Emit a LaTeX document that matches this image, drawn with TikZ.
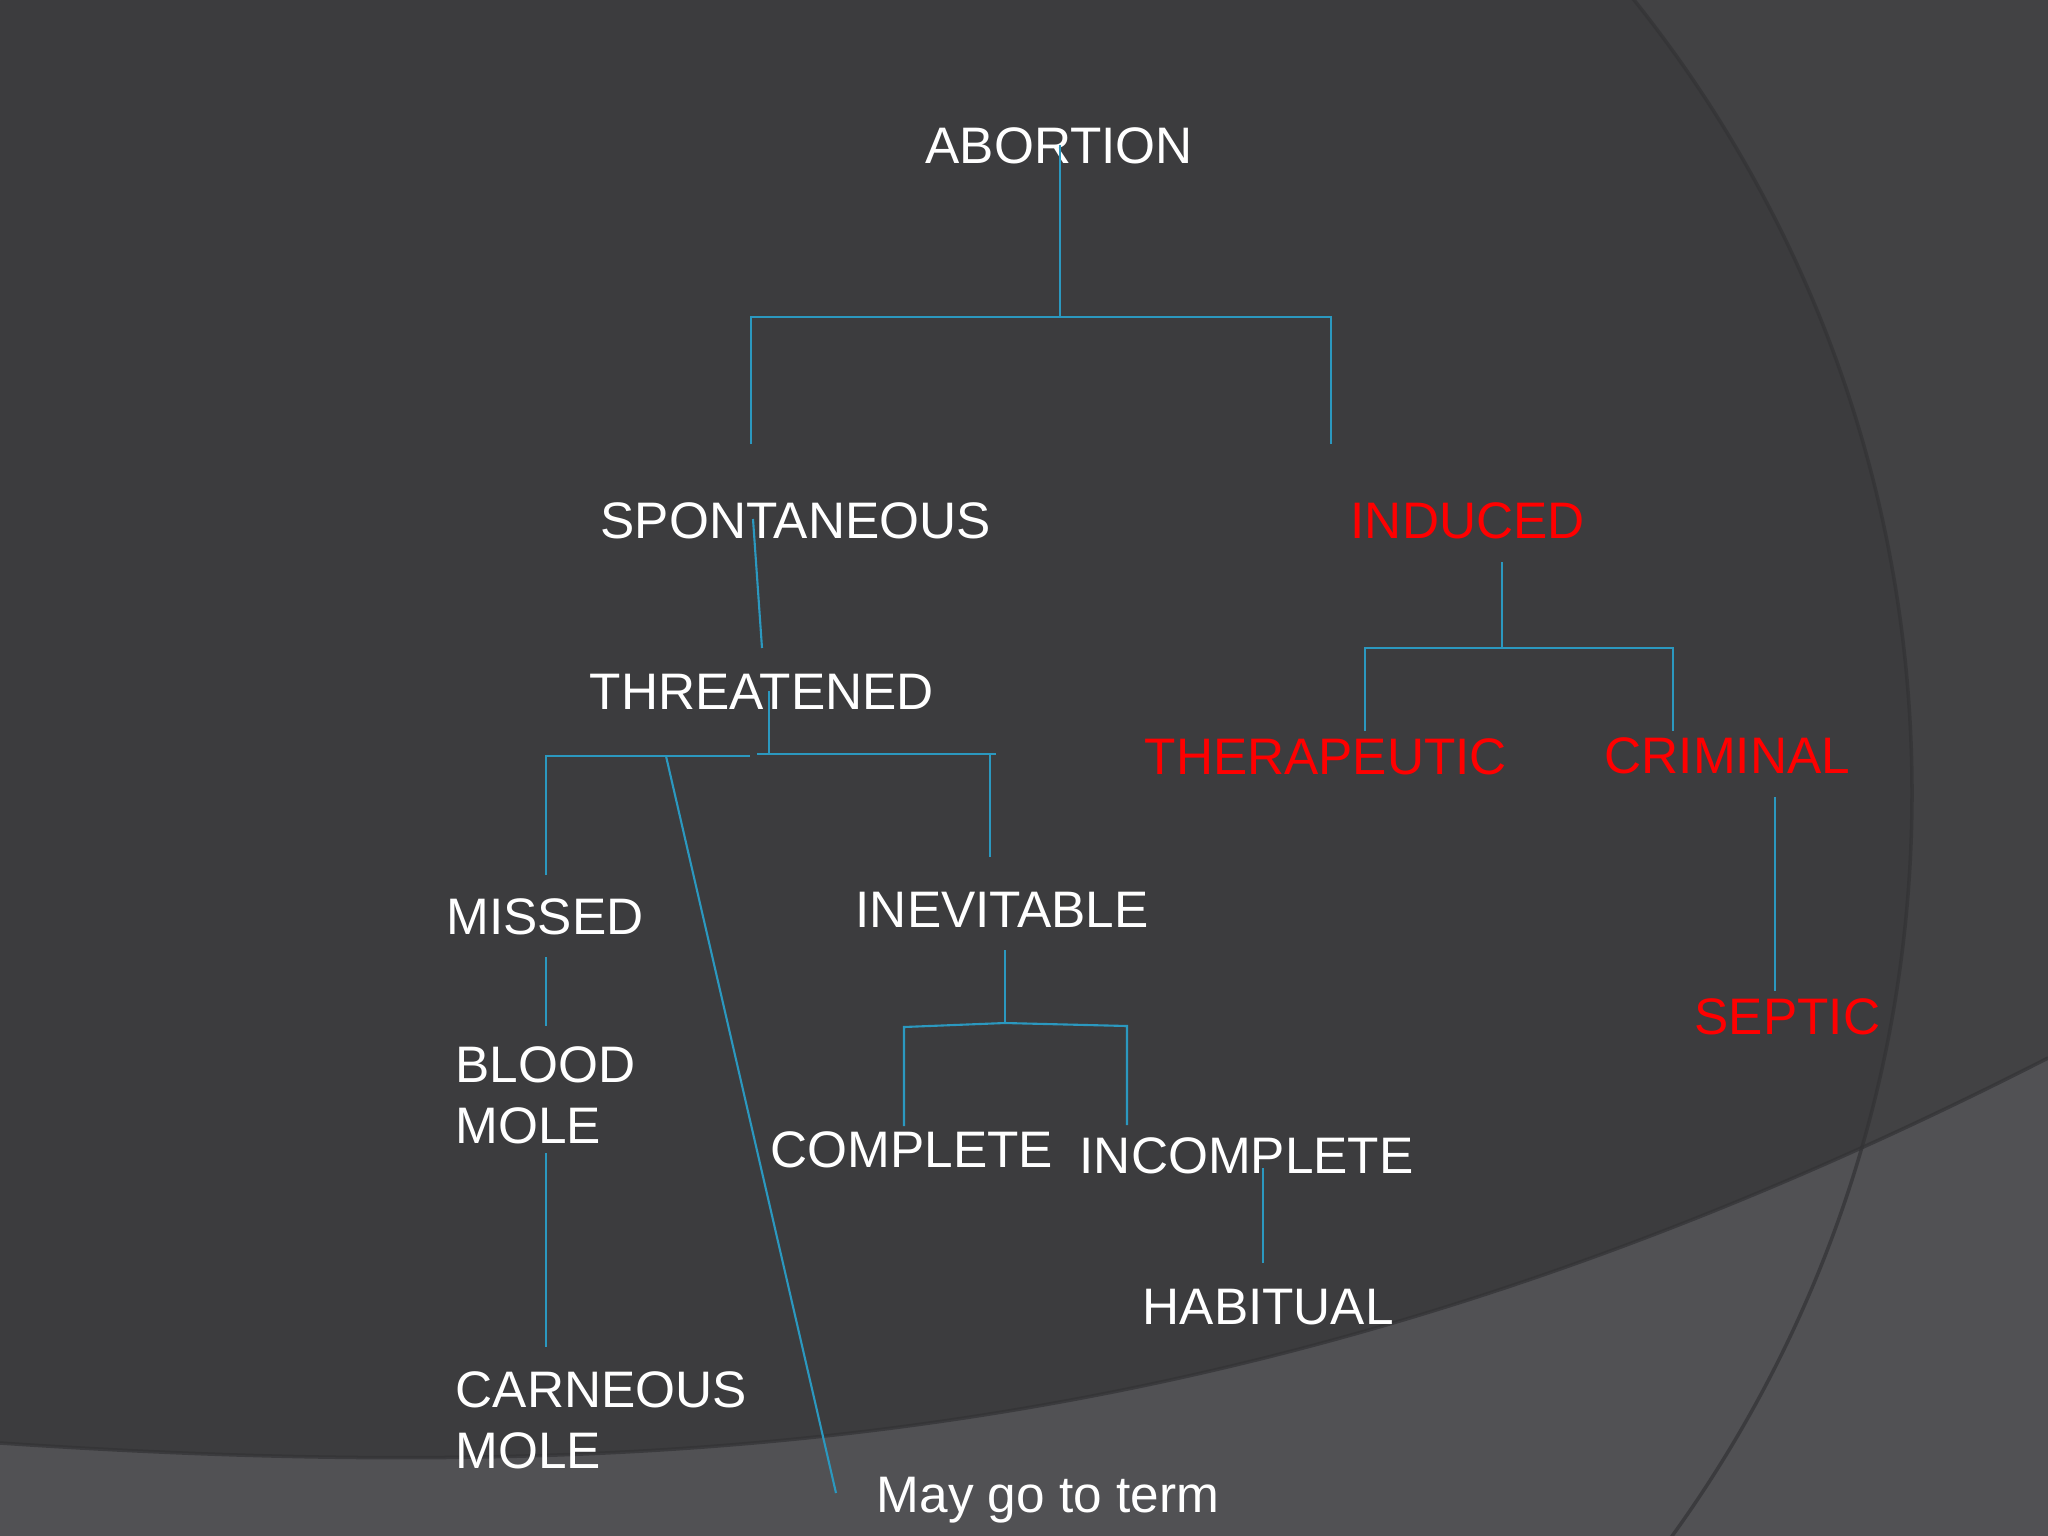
\documentclass[tikz,border=0pt]{standalone}
\usepackage{fontspec}
\setmainfont{Liberation Sans}
\usepackage{xcolor}

\definecolor{slide}{HTML}{3C3C3E}
\definecolor{slidelight}{HTML}{424244}
\definecolor{slideband}{HTML}{515154}
\definecolor{slideedge}{HTML}{333335}
\definecolor{linkblue}{HTML}{2B98BF}

\begin{document}
\begin{tikzpicture}[
      x=0.01cm, y=-0.01cm,
      every node/.style={inner sep=0pt, anchor=base west, text=white,
        font=\fontsize{14.6}{17.4}\selectfont},
      red term/.style={text=red},
      two line/.style={anchor=west, align=left},
      link/.style={draw=linkblue, line width=0.6pt},
      edge shade/.style={draw=slideedge, line width=1pt, opacity=0.7}
    ]
    % slide background
    \useasboundingbox (0,0) rectangle (2048,1536);
    \fill[slide] (0,0) rectangle (2048,1536);
    \fill[slidelight, even odd rule] (0,0) rectangle (2048,1536) (642,793) circle[radius=1270];
    \fill[slideband] (0,1443) .. controls (700,1490) and (1300,1440) .. (2048,1058)
      -- (2048,1536) -- (0,1536) -- cycle;
    \draw[edge shade] (642,793) circle[radius=1270];
    \draw[edge shade] (0,1443) .. controls (700,1490) and (1300,1440) .. (2048,1058);

    % terms
    \node (abortion) at (925,163) {ABORTION};
    \node (spont) at (600,538) {SPONTANEOUS};
    \node[red term] (induced) at (1350,538) {INDUCED};
    \node (threat) at (589,709) {THREATENED};
    \node[red term] (therap) at (1144,774) {THERAPEUTIC};
    \node[red term] (criminal) at (1604,773) {CRIMINAL};
    \node (missed) at (446,934) {MISSED};
    \node (inevit) at (855,927) {INEVITABLE};
    \node[red term] (septic) at (1694,1034) {SEPTIC};
    \node[two line] (blood) at (455,1095) {BLOOD\\MOLE};
    \node (complete) at (770,1167) {COMPLETE};
    \node (incompl) at (1079,1173) {INCOMPLETE};
    \node (habit) at (1142,1324) {HABITUAL};
    \node[two line] (carn) at (455,1420) {CARNEOUS\\MOLE};
    \node (term) at (876,1512) {May go to term};

    % connector ends
    \coordinate (ab-fork) at (1060,317);
    \coordinate (sp-stub) at (751,444);
    \coordinate (ind-stub) at (1331,444);
    \coordinate (sp-foot) at (753,519);
    \coordinate (th-head) at (762,648);
    \coordinate (th-fork) at (769,754);
    \coordinate (th-mid) at (757,754);
    \coordinate (th-rbar) at (996,754);
    \coordinate (inev-stub) at (990,857);
    \coordinate (th-lbar) at (750,756);
    \coordinate (mi-stub) at (546,875);
    \coordinate (slant-top) at (666,756);
    \coordinate (term-stub) at (836,1493);
    \coordinate (mi-foot) at (546,957);
    \coordinate (bl-head) at (546,1026);
    \coordinate (bl-foot) at (546,1153);
    \coordinate (ca-head) at (546,1347);
    \coordinate (inev-foot) at (1005,950);
    \coordinate (inev-fork) at (1005,1023);
    \coordinate (co-stub) at (904,1126);
    \coordinate (inc-stub) at (1127,1125);
    \coordinate (inc-foot) at (1263,1168);
    \coordinate (ha-head) at (1263,1263);
    \coordinate (ind-foot) at (1502,562);
    \coordinate (ind-fork) at (1502,648);
    \coordinate (tp-stub) at (1365,731);
    \coordinate (cr-stub) at (1673,731);
    \coordinate (cr-foot) at (1775,797);
    \coordinate (se-head) at (1775,991);

    % connectors
    \draw[link] (ab-fork |- abortion.center) -- (ab-fork);
    \draw[link] (sp-stub) -- (sp-stub |- ab-fork) -- (ind-stub |- ab-fork) -- (ind-stub);
    \draw[link] (sp-foot) -- (th-head);
    \draw[link] (th-fork |- threat.center) -- (th-fork);
    \draw[link] (th-mid) -- (th-rbar);
    \draw[link] (inev-stub |- th-rbar) -- (inev-stub);
    \draw[link] (mi-stub) -- (mi-stub |- th-lbar) -- (th-lbar);
    \draw[link] (slant-top) -- (term-stub);
    \draw[link] (mi-foot) -- (bl-head);
    \draw[link] (bl-foot) -- (ca-head);
    \draw[link] (inev-foot) -- (inev-fork);
    \draw[link] (co-stub) -- ++(0,-99) -- (inev-fork) -- ++(122,3) -- (inc-stub);
    \draw[link] (inc-foot) -- (ha-head);
    \draw[link] (ind-foot) -- (ind-fork);
    \draw[link] (tp-stub) -- (tp-stub |- ind-fork) -- (cr-stub |- ind-fork) -- (cr-stub);
    \draw[link] (cr-foot) -- (se-head);
  \end{tikzpicture}
\end{document}
